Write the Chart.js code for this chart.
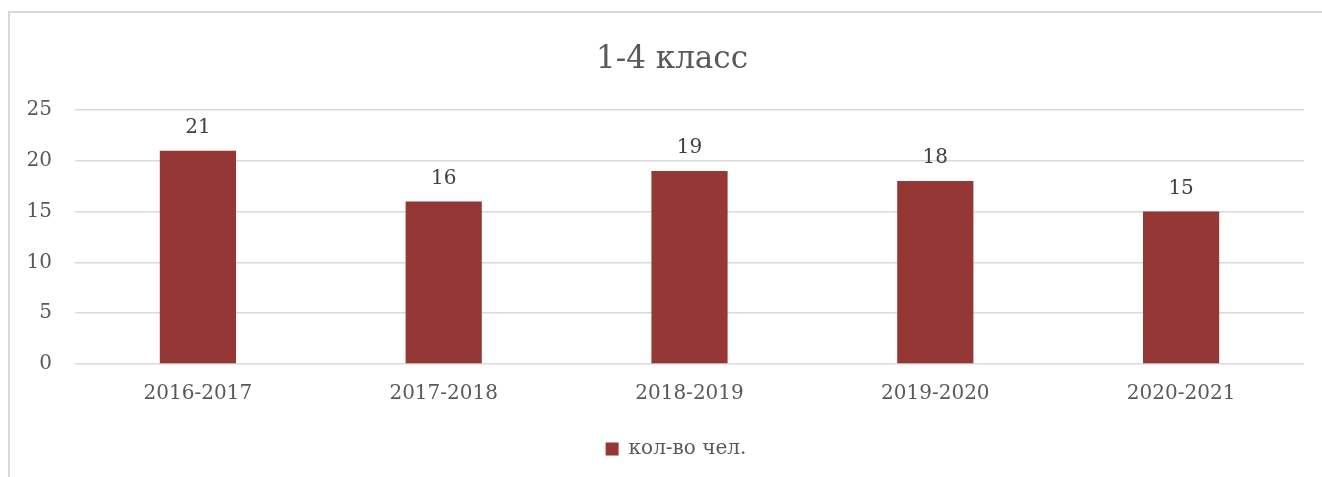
<!DOCTYPE html>
<html>
<head>
<meta charset="utf-8">
<script src="https://cdn.jsdelivr.net/npm/chart.js@4/dist/chart.umd.min.js"></script>
<style>
  html, body { margin: 0; padding: 0; background: #fff; overflow: hidden; }
  #frame {
    position: absolute; left: 8px; top: 11px; width: 1320px; height: 470px;
    border-left: 2px solid #d9d9d9; border-top: 2px solid #d9d9d9;
  }
  #wrap { position: absolute; left: 0; top: 0; width: 1312px; height: 464px; }
</style>
</head>
<body>
<div id="frame"><div id="wrap"><canvas id="c"></canvas></div></div>
<script>
// ── Data ─────────────────────────────────────────────
const categories = ['2016-2017', '2017-2018', '2018-2019', '2019-2020', '2020-2021'];
const values     = [21, 16, 19, 18, 15];
const seriesName = 'кол-во чел.';
const chartTitle = '1-4 класс';
const yMin = 0, yMax = 25, yStep = 5;

const FONT = "'DejaVu Serif', serif";
const BAR  = '#953735';

// value labels above each bar
const barLabels = {
  id: 'barLabels',
  afterDatasetsDraw(chart) {
    const { ctx } = chart;
    const meta = chart.getDatasetMeta(0);
    ctx.save();
    ctx.font = `20px ${FONT}`;
    ctx.fillStyle = '#404040';
    ctx.textAlign = 'center';
    ctx.textBaseline = 'middle';
    meta.data.forEach((bar, i) => {
      ctx.fillText(String(chart.data.datasets[0].data[i]), bar.x, bar.y - 23);
    });
    ctx.restore();
  },
};

// title centred on the whole frame (not on the padded layout box)
const frameTitle = {
  id: 'frameTitle',
  afterLayout(chart) {
    // legend is centred on the frame too, nudge it past the right padding
    if (chart.legend) { chart.legend.left += 19; chart.legend.right += 19; }
  },
  afterDraw(chart) {
    const { ctx } = chart;
    ctx.save();
    ctx.font = `31px ${FONT}`;
    ctx.fillStyle = '#595959';
    ctx.textAlign = 'center';
    ctx.textBaseline = 'middle';
    ctx.fillText(chartTitle, chart.width / 2 + 6, 47);
    ctx.restore();
  },
};

new Chart(document.getElementById('c'), {
  type: 'bar',
  data: {
    labels: categories,
    datasets: [{
      label: seriesName,
      data: values,
      backgroundColor: BAR,
      categoryPercentage: 1,
      barPercentage: 0.31,
    }],
  },
  options: {
    responsive: true,
    maintainAspectRatio: false,
    animation: false,
    layout: { padding: { left: 0, right: 18, top: 97, bottom: 8 } },
    plugins: {
      tooltip: { enabled: false },
      title: { display: false },
      legend: {
        position: 'bottom',
        labels: {
          color: '#595959',
          font: { family: FONT, size: 20 },
          boxWidth: 13,
          boxHeight: 13,
          padding: 23,
        },
      },
    },
    scales: {
      x: {
        grid: { display: false },
        border: { display: false },
        ticks: { color: '#595959', font: { family: FONT, size: 20 }, padding: 10 },
      },
      y: {
        min: yMin,
        max: yMax,
        ticks: { stepSize: yStep, color: '#595959', font: { family: FONT, size: 20 }, padding: 23 },
        grid: { color: '#d9d9d9', lineWidth: 1.5, drawTicks: false },
        border: { display: false },
        afterFit(scale) { scale.width = 65; },
      },
    },
  },
  plugins: [barLabels, frameTitle],
});
</script>
</body>
</html>
